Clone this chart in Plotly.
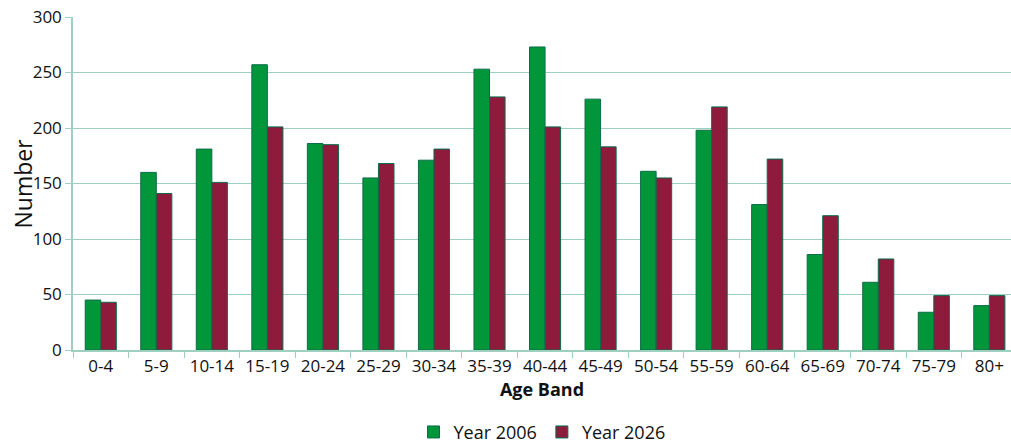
import plotly.graph_objects as go

age_bands = ["0-4", "5-9", "10-14", "15-19", "20-24", "25-29", "30-34", "35-39", "40-44",
             "45-49", "50-54", "55-59", "60-64", "65-69", "70-74", "75-79", "80+"]
year_2006 = [45, 160, 181, 257, 186, 155, 171, 253, 273, 226, 161, 198, 131, 86, 61, 34, 40]
year_2026 = [43, 141, 151, 201, 185, 168, 181, 228, 201, 183, 155, 219, 172, 121, 82, 49, 49]

GRID = "#9fcfbf"
FONT = "Open Sans, Noto Sans, sans-serif"

fig = go.Figure()
fig.add_trace(go.Bar(x=age_bands, y=year_2006, name="Year 2006",
                     marker=dict(color="#009639", line=dict(color="#0b6b4a", width=1))))
fig.add_trace(go.Bar(x=age_bands, y=year_2026, name="Year 2026",
                     marker=dict(color="#8e1a3c", line=dict(color="#0b6b4a", width=1))))

fig.update_layout(
    width=1011, height=445,
    margin=dict(l=73, r=0, t=17, b=95, autoexpand=False),
    paper_bgcolor="white", plot_bgcolor="white",
    barmode="group", bargap=0.44, bargroupgap=0,
    font=dict(family=FONT, color="#111111", size=17),
    showlegend=True,
    legend=dict(orientation="h", x=0.5, xanchor="center", xref="paper",
                y=-0.247, yanchor="middle", yref="paper",
                font=dict(size=18, family=FONT), itemwidth=30, tracegroupgap=0,
                bgcolor="rgba(0,0,0,0)"),
    xaxis=dict(
        range=[-0.5, 16.39], automargin=False,
        tickson="boundaries", ticks="outside", ticklen=6, tickcolor=GRID,
        showline=True, linecolor=GRID, linewidth=1.5,
        showgrid=False,
        tickfont=dict(size=17),
        title=dict(text="<b>Age Band</b>", font=dict(size=18), standoff=6),
    ),
    yaxis=dict(
        range=[0, 300], dtick=50, automargin=False,
        ticks="outside", ticklen=6, tickcolor=GRID,
        showline=True, linecolor=GRID, linewidth=1.5,
        showgrid=True, gridcolor=GRID, gridwidth=1,
        zeroline=False,
        tickfont=dict(size=17),
    ),
    annotations=[dict(text="Number", textangle=-90, showarrow=False,
                      xref="paper", yref="paper", x=(22 - 73) / 938, y=0.5,
                      xanchor="center", yanchor="middle", font=dict(size=23))],
)

fig.write_html("out.html")
